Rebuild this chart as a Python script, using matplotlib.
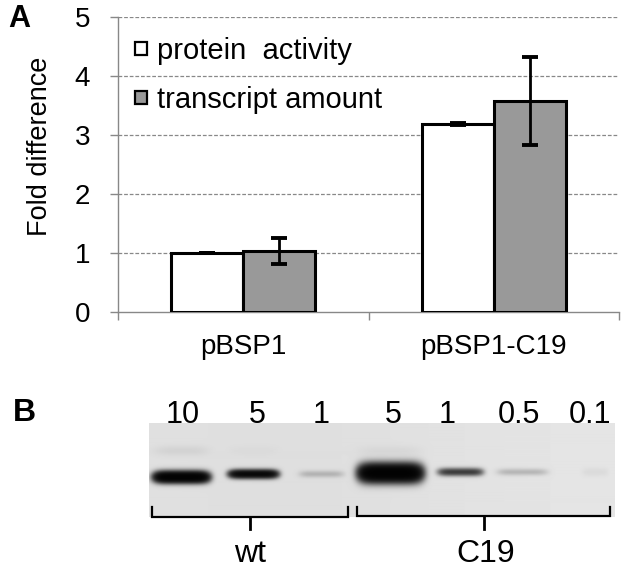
import numpy as np
import matplotlib
matplotlib.use("Agg")
import matplotlib.pyplot as plt
from matplotlib.patches import Patch

plt.rcParams['font.family'] = ['Liberation Sans', 'DejaVu Sans']

# ---- Panel A data ----
categories = ["pBSP1", "pBSP1-C19"]
series_names = ["protein  activity", "transcript amount"]
protein_activity = [1.0, 3.19]
protein_err = [0.005, 0.02]
transcript_amount = [1.03, 3.58]
transcript_err = [0.22, 0.75]
yticks = [0, 1, 2, 3, 4, 5]

# ---- Panel B data ----
lane_labels = ["10", "5", "1", "5", "1", "0.5", "0.1"]
band_intensity = [0.95, 0.7, 0.05, 1.0, 0.3, 0.05, 0.01]
group_labels = ["wt", "C19"]

W, H = 627, 569
fig = plt.figure(figsize=(W / 100, H / 100), dpi=100)

def fr(x0, y0, x1, y1):
    return [x0 / W, 1 - y1 / H, (x1 - x0) / W, (y1 - y0) / H]

ax = fig.add_axes(fr(118, 17, 619, 312))
x = np.arange(len(categories))
bw = 0.288
ekw = dict(ecolor="black", elinewidth=2.0, capsize=5.5, capthick=2.8)
ax.bar(x - bw / 2, protein_activity, bw, color="white", edgecolor="black",
       linewidth=2.2, yerr=protein_err, error_kw=ekw, zorder=3, label=series_names[0])
ax.bar(x + bw / 2, transcript_amount, bw, color="#999999", edgecolor="black",
       linewidth=2.2, yerr=transcript_err, error_kw=ekw, zorder=3, label=series_names[1])
ax.set_xlim(-0.5, 1.5)
ax.set_ylim(0, 5)
ax.set_yticks(yticks)
ax.set_yticklabels([str(v) for v in yticks], fontsize=20)
for v in yticks[1:]:
    ax.axhline(v, color="#888888", linestyle=(0, (3, 1.5)), linewidth=0.9, zorder=1)
for s in ["top", "right"]:
    ax.spines[s].set_visible(False)
for s in ["left", "bottom"]:
    ax.spines[s].set_color("#888888")
    ax.spines[s].set_linewidth(1.0)
ax.tick_params(axis="y", length=6, color="#888888", width=1.0, pad=14)
ax.set_xticks([-0.5, 0.5, 1.5])
ax.set_xticklabels([])
ax.tick_params(axis="x", which="major", length=6, color="#888888", width=1.0)
ax.set_xticks(x, minor=True)
ax.set_xticklabels(categories, minor=True, fontsize=20)
ax.tick_params(axis="x", which="minor", length=0, pad=16)
ax.set_ylabel("Fold difference", fontsize=19.5)
ax.yaxis.label.set_va("center")
ax.yaxis.set_label_coords(-0.156, 0.563)
handles = [Patch(facecolor="white", edgecolor="black", linewidth=1.6),
           Patch(facecolor="#999999", edgecolor="black", linewidth=1.6)]
ax.legend(handles, series_names, loc="upper left", bbox_to_anchor=(0.034, 0.933),
          frameon=False, fontsize=21, handlelength=0.4, handleheight=0.3,
          handletextpad=0.36, labelspacing=0.72, borderaxespad=0, borderpad=0)

# ---- Panel B blot ----
bx0, by0, bx1, by1 = 149, 423, 615, 517
axb = fig.add_axes(fr(bx0, by0, bx1, by1))
bw_px, bh_px = bx1 - bx0, by1 - by0
yy, xx = np.mgrid[0:bh_px, 0:bw_px].astype(float)
lane_x = [32, 104, 172, 241, 311, 373, 446]
lane_y = [54, 51, 51, 50, 49, 49, 49]
lane_hw = [27, 24, 22, 31, 22, 25, 13]
lane_sy = [5.0, 3.8, 3.2, 8.0, 3.5, 3.2, 4]
smudge = [0.06, 0.02, 0.0, 0.04, 0.0, 0.0, 0.0]
dens = np.zeros_like(xx)
for cx, cy, hw, sy, a, sm in zip(lane_x, lane_y, lane_hw, lane_sy, band_intensity, smudge):
    dens += a * 4.5 * np.exp(-((xx - cx) / hw) ** 6 - ((yy - cy) / sy) ** 2)
    dens += sm * np.exp(-((xx - cx) / hw) ** 4 - ((yy - 28) / 5) ** 2)
bg = 0.89 - 0.02 * np.exp(-((xx - 150) / 200) ** 2) + 0.01 * (xx / bw_px)
img = bg * np.exp(-dens)
axb.imshow(img, cmap="gray", vmin=0, vmax=1, aspect="auto",
           extent=[0, bw_px, bh_px, 0], interpolation="bilinear")
axb.set_axis_off()

# ---- Annotation overlay in pixel coordinates ----
ov = fig.add_axes([0, 0, 1, 1])
ov.patch.set_alpha(0)
ov.set_xlim(0, W)
ov.set_ylim(H, 0)
ov.set_axis_off()
ov.text(19, 19, "A", fontsize=22, fontweight="bold", va="center", ha="center")
ov.text(24, 413, "B", fontsize=23, fontweight="bold", va="center", ha="center")
lane_px = [183, 257, 321, 393, 447, 519, 590]
for lx, lab in zip(lane_px, lane_labels):
    ov.text(lx, 423, lab, fontsize=22, ha="center", va="baseline")

def bracket(x0, x1, xc, yb):
    ov.plot([x0, x0, x1, x1], [507, yb, yb, 507], color="black", lw=1.6,
            solid_joinstyle="miter")
    ov.plot([xc, xc], [yb, 529], color="black", lw=2.0)

bracket(152, 348, 250, 517)
bracket(357, 610, 484, 516)
ov.text(250, 562, group_labels[0], fontsize=23, ha="center", va="baseline")
ov.text(486, 562, group_labels[1], fontsize=23, ha="center", va="baseline")

fig.savefig("out.png", dpi=100)
